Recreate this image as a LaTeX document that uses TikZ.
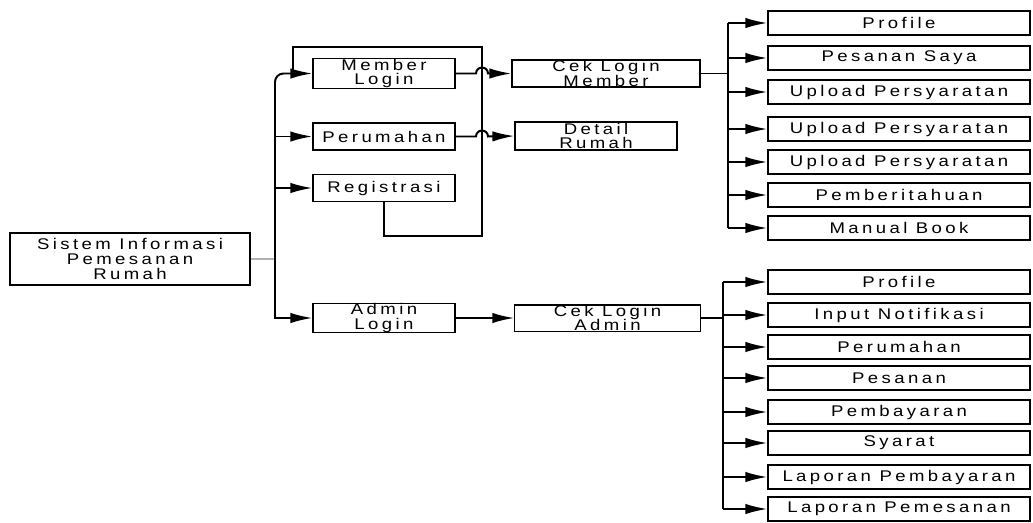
\documentclass[tikz,border=0pt]{standalone}
\usepackage{fontspec}
\setmainfont{Liberation Sans}[FakeStretch=1.2,LetterSpace=22]
\usetikzlibrary{arrows.meta}

\tikzset{
  box/.style={draw, line width=0.8pt, inner sep=0pt, align=center, font=\fontsize{11}{10.5}\selectfont},
  lvlbox/.style={box, minimum width=3.55cm, minimum height=0.675cm},
  itembox/.style={box, minimum width=6.55cm, minimum height=0.6cm},
  wire/.style={line width=1.4pt},
  arr/.style={wire, -{Latex[length=5.5mm,width=2.6mm]}},
}

\begin{document}
\begin{tikzpicture}[x=0.025cm, y=-0.025cm]
	\useasboundingbox (0,0) rectangle (1033,522);
	% Boxes:
	\node[box, minimum width=6cm, minimum height=1.3cm] (root) at (130,259) {Sistem Informasi\\Pemesanan\\Rumah};
	\node[lvlbox] (mlogin) at (384,73.5) {Member\\Login};
	\node[lvlbox] (perum) at (384,136.5) {Perumahan};
	\node[lvlbox] (regis) at (384,188) {Registrasi};
	\node[lvlbox, minimum height=0.6cm] (alogin) at (384,318) {Admin\\Login};
	\node[box, minimum width=4.7cm, minimum height=0.675cm] (cekm) at (606,73.5) {Cek Login\\Member};
	\node[box, minimum width=4.05cm, minimum height=0.7cm] (detail) at (596,136) {Detail\\Rumah};
	\node[box, minimum width=4.63cm, minimum height=0.6cm] (ceka) at (607.5,318) {Cek Login\\Admin};
	\foreach \y/\t [count=\i] in {23/Profile, 58/Pesanan Saya, 92/Upload Persyaratan, 129/Upload Persyaratan, 162/Upload Persyaratan, 195/Pemberitahuan, 228/Manual Book}
		\node[itembox] (m\i) at (899,\y) {\t};
	\foreach \y/\t [count=\i] in {282/Profile, 315/Input Notifikasi, 347/Perumahan, 378/Pesanan, 412/Pembayaran, 443/Syarat, 477/Laporan Pembayaran, 509/Laporan Pemesanan}
		\node[itembox] (a\i) at (899,\y) {\t};
	% Wires:
	\coordinate (trunk) at (275,259);
	\coordinate (loopr) at (482,236);
	\coordinate (loopl) at (293,47);
	\coordinate (mbus) at (728,73.5);
	\coordinate (abus) at (723,318);
	\coordinate (hopm) at (482,73.5);
	\coordinate (hopp) at (482,136.5);
	\draw[gray!60, line width=0.8pt] (root.east) -- (trunk);
	\draw[arr, rounded corners=6pt] (trunk) |- (mlogin.west);
	\draw[arr] (trunk) |- (alogin.west);
	\draw[arr] (trunk |- perum.west) -- (perum.west);
	\draw[arr] (trunk |- regis.west) -- (regis.west);
	\draw[wire] (regis.south) |- (loopr) |- (loopl) -- (loopl |- mlogin.west);
	\draw[arr] (mlogin.east) -- ([xshift=-0.15cm]hopm) arc[start angle=180, end angle=0, radius=0.15cm] -- (cekm.west);
	\draw[arr] (perum.east) -- ([xshift=-0.15cm]hopp) arc[start angle=180, end angle=0, radius=0.15cm] -- (detail.west);
	\draw[arr] (alogin.east) -- (ceka.west);
	\draw[wire] (cekm.east) -- (mbus);
	\draw[wire] (mbus |- m1.west) -- (mbus |- m7.west);
	\foreach \i in {1,...,7}
		\draw[arr] (mbus |- m\i.west) -- (m\i.west);
	\draw[wire] (ceka.east) -- (abus);
	\draw[wire] (abus |- a1.west) -- (abus |- a8.west);
	\foreach \i in {1,...,8}
		\draw[arr] (abus |- a\i.west) -- (a\i.west);
\end{tikzpicture}
\end{document}
